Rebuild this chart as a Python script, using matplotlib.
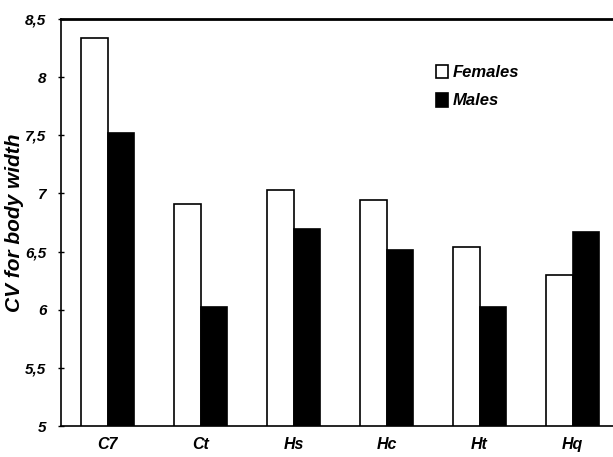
import matplotlib.pyplot as plt
import numpy as np

plt.rcParams['font.family'] = ['Liberation Sans Narrow', 'Liberation Sans', 'DejaVu Sans']

categories = ['C7', 'Ct', 'Hs', 'Hc', 'Ht', 'Hq']
females = [8.34, 6.91, 7.03, 6.94, 6.54, 6.30]
males = [7.52, 6.02, 6.69, 6.51, 6.02, 6.67]
yticks = [5, 5.5, 6, 6.5, 7, 7.5, 8, 8.5]
ytick_labels = ['5', '5,5', '6', '6,5', '7', '7,5', '8', '8,5']

fig = plt.figure(figsize=(6.13, 4.57), dpi=100)
ax = fig.add_axes([61 / 613, 31 / 457, 1 - 61 / 613 + 0.01, 407 / 457])

x = np.arange(len(categories))
w = 0.285
ax.bar(x - w / 2, females, w, color='white', edgecolor='black',
       linewidth=1.2, label='Females')
ax.bar(x + w / 2, males, w, color='black', edgecolor='black',
       linewidth=1.2, label='Males')

ax.set_ylim(5, 8.5)
ax.set_xlim(-0.5, 5.5)
ax.set_yticks(yticks)
ax.set_yticklabels(ytick_labels, fontsize=11, fontweight='bold', fontstyle='italic')
ax.set_xticks(x)
ax.set_xticklabels(categories, fontsize=11.5, fontweight='bold', fontstyle='italic')
ax.tick_params(axis='x', length=0, pad=8)
ax.tick_params(axis='y', direction='inout', length=5, width=1, pad=8)
ax.set_ylabel('CV for body width', fontsize=15, fontweight='bold',
              fontstyle='italic', family=['Liberation Sans', 'DejaVu Sans'])
ax.yaxis.set_label_coords(-0.066, 0.5)

for s in ['left', 'bottom']:
    ax.spines[s].set_linewidth(1.2)
ax.spines['top'].set_linewidth(2)
ax.spines['right'].set_visible(False)

ax.legend(loc='upper left', bbox_to_anchor=(0.645, 0.925), frameon=False,
          prop={'size': 12, 'weight': 'bold', 'style': 'italic'},
          handlelength=0.7, handleheight=0.9, handletextpad=0.3, labelspacing=0.75)

fig.savefig('out.png', dpi=100)
